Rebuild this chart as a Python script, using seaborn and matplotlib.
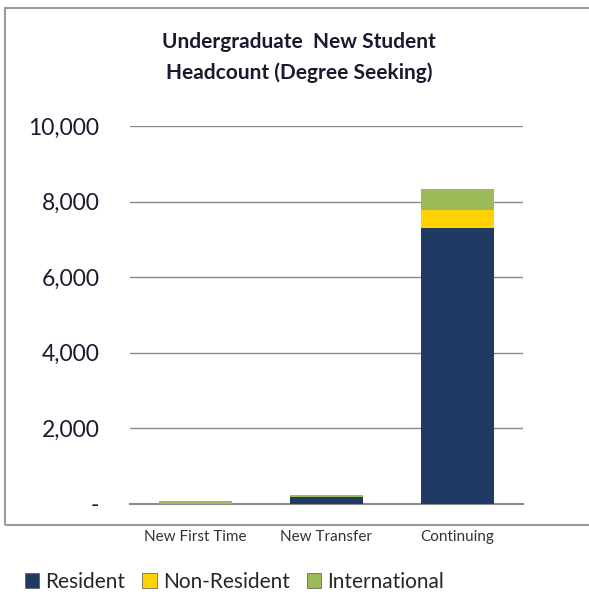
import pandas as pd
import matplotlib.pyplot as plt
import seaborn as sns
from matplotlib.patches import Rectangle, Patch

# %% - podaci
categories = ["New First Time", "New Transfer", "Continuing"]
resident = [0, 195, 7310]
non_resident = [0, 0, 480]
international = [70, 40, 550]

series_names = ["Resident", "Non-Resident", "International"]
colors = ["#1F3A63", "#FFD200", "#9BBB59"]

df = pd.DataFrame(
    {
        "Kategorija": categories,
        "Resident": resident,
        "Non-Resident": non_resident,
        "International": international,
    }
)
# kumulativne sume za stacked prikaz (crta se od najvece prema najmanjoj)
df["c1"] = df["Resident"]
df["c2"] = df["c1"] + df["Non-Resident"]
df["c3"] = df["c2"] + df["International"]

# %% - crtanje
sns.set_theme(style="white")
plt.rcParams["font.family"] = ["Lato", "DejaVu Sans"]

fig = plt.figure(figsize=(5.89, 5.96), dpi=100)
ax = fig.add_axes([130 / 589, 1 - 504 / 596, 393 / 589, 378 / 596])

for col, color in zip(["c3", "c2", "c1"], colors[::-1]):
    sns.barplot(data=df, x="Kategorija", y=col, color=color, width=0.56,
                saturation=1, linewidth=0, ax=ax, zorder=3)

ax.set_ylim(0, 10000)
ax.set_xlim(-0.5, 2.5)
ax.set_yticks([0, 2000, 4000, 6000, 8000, 10000])
ax.set_yticklabels(["-", "2,000", "4,000", "6,000", "8,000", "10,000"],
                   fontsize=16.5, color="#1a1a2e")
ax.tick_params(axis="y", length=0, pad=22)
ax.set_xticks([])
ax.set_xlabel("")
ax.set_ylabel("")
ax.yaxis.grid(True, color="#8a8a8a", linewidth=1)
ax.set_axisbelow(True)
for s in ["top", "right", "left"]:
    ax.spines[s].set_visible(False)
ax.spines["bottom"].set_color("#8a8a8a")
ax.spines["bottom"].set_linewidth(1.5)

# nazivi kategorija ispod osi
for i, cat in enumerate(categories):
    ax.text(i, -700, cat, ha="center", va="top", fontsize=11, color="#333333")

fig.text(0.508, 1 - 42 / 596, "Undergraduate  New Student", ha="center",
         va="center", fontsize=15, fontweight="bold", color="#1a1a2e")
fig.text(0.508, 1 - 73 / 596, "Headcount (Degree Seeking)", ha="center",
         va="center", fontsize=15, fontweight="bold", color="#1a1a2e")

# okvir grafa
fig.patches.append(Rectangle((5 / 589, 1 - 525 / 596), 600 / 589, 517 / 596,
                             transform=fig.transFigure, fill=False,
                             edgecolor="#9a9a9a", linewidth=1.5))

handles = [Patch(facecolor=c, edgecolor="#555555", linewidth=0.5) for c in colors]
fig.legend(handles, series_names, loc="center left",
           bbox_to_anchor=(0.01, 1 - 582 / 596), ncol=3, frameon=False,
           fontsize=15, handlelength=0.7, handleheight=0.7, handletextpad=0.3,
           columnspacing=0.8)

fig.savefig("out.png", dpi=100)
